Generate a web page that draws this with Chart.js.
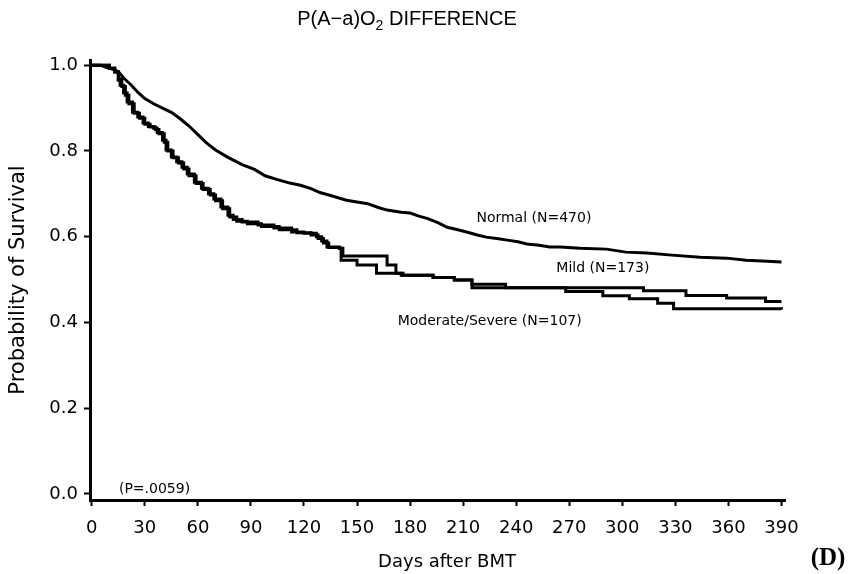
<!DOCTYPE html>
<html><head><meta charset="utf-8">
<script src="https://cdn.jsdelivr.net/npm/chart.js@4"></script>
<style>html,body{margin:0;padding:0;background:#fff}</style>
</head><body>
<canvas id="c" width="854" height="574"></canvas>
<script>
// ---- data ----
const xTicks = [0,30,60,90,120,150,180,210,240,270,300,330,360,390];
const yTicks = [0,0.2,0.4,0.6,0.8,1.0];

const normalDays = [0,5,8,12,15,18,22,26,30,35,40,45,50,55,60,65,70,77,85,92,98,105,112,118,124,129,136,144,150,156,162,167,175,180,185,190,196,201,207,212,218,223,230,235,241,246,253,259,265,276,291,302,314,328,344,359,370,382,390];
const normalSurv = [1.0,1.0,0.995,0.99,0.985,0.97,0.955,0.937,0.922,0.91,0.900,0.890,0.875,0.858,0.838,0.818,0.802,0.785,0.768,0.757,0.742,0.733,0.725,0.72,0.712,0.703,0.695,0.685,0.681,0.677,0.668,0.662,0.657,0.655,0.648,0.642,0.632,0.622,0.616,0.611,0.604,0.599,0.595,0.592,0.588,0.583,0.58,0.576,0.576,0.573,0.571,0.564,0.562,0.557,0.552,0.55,0.545,0.543,0.541];

const mildDays = [0,6,10,13,15,16,18,20,23,26,29,32,35,37,40,42,45,48,51,54,58,62,66,69,73,77,80,85,94,103,113,120,127,130,133,140,141,150,161,175,193,205,215,312,336,359,381,390];
const mildSurv = [1.0,1.0,0.993,0.984,0.965,0.953,0.935,0.914,0.89,0.879,0.865,0.857,0.853,0.843,0.825,0.802,0.786,0.775,0.762,0.746,0.727,0.713,0.7,0.688,0.669,0.65,0.64,0.634,0.627,0.62,0.611,0.608,0.6,0.59,0.576,0.573,0.545,0.534,0.515,0.51,0.505,0.499,0.481,0.474,0.463,0.457,0.449,0.449];

const modDays = [0,6,10,13,15,17,19,21,24,27,30,33,36,38,41,43,46,49,52,55,59,63,67,70,74,78,82,88,96,106,116,124,128,131,134,140,142,167,172,176,193,205,215,234,268,289,304,320,329,390];
const modSurv = [1.0,1.0,0.993,0.984,0.968,0.95,0.93,0.91,0.888,0.876,0.862,0.856,0.85,0.84,0.82,0.8,0.784,0.772,0.758,0.742,0.724,0.71,0.697,0.684,0.665,0.646,0.636,0.63,0.624,0.616,0.609,0.604,0.596,0.585,0.575,0.573,0.555,0.534,0.515,0.51,0.505,0.499,0.489,0.481,0.472,0.462,0.455,0.445,0.432,0.43];

const seriesLabels = [
  {text:'Normal (N=470)', day:250, surv:0.643},
  {text:'Mild (N=173)', day:289, surv:0.527},
  {text:'Moderate/Severe (N=107)', day:225, surv:0.403},
  {text:'(P=.0059)', day:35.5, surv:0.01}
];
const xTitle = 'Days after BMT';
const yTitle = 'Probability of Survival';

const toPts = (d,s)=>d.map((x,i)=>({x:x,y:s[i]}));

const annot = {
  id:'annot',
  afterDraw(chart){
    const ctx = chart.ctx, xs = chart.scales.x, ys = chart.scales.y;
    ctx.save();
    ctx.fillStyle = '#000';
    ctx.textAlign = 'center';
    ctx.textBaseline = 'middle';
    ctx.font = '14px "DejaVu Sans"';
    seriesLabels.forEach(l=>{
      ctx.fillText(l.text, xs.getPixelForValue(l.day), ys.getPixelForValue(l.surv));
    });
    // x axis title
    ctx.font = '18px "DejaVu Sans"';
    ctx.fillText(xTitle, 447, 562);
    // title with subscript
    const big = '20px "Liberation Sans"', small = '14px "Liberation Sans"';
    const p1 = 'P(A\u2212a)O', p2 = '2', p3 = ' DIFFERENCE';
    ctx.font = big; const w1 = ctx.measureText(p1).width, w3 = ctx.measureText(p3).width;
    ctx.font = small; const w2 = ctx.measureText(p2).width;
    let x0 = 407 - (w1+w2+w3)/2;
    ctx.textAlign = 'left'; ctx.textBaseline = 'alphabetic';
    ctx.font = big; ctx.fillText(p1, x0, 25);
    ctx.font = small; ctx.fillText(p2, x0+w1, 30);
    ctx.font = big; ctx.fillText(p3, x0+w1+w2, 25);
    // panel letter
    ctx.textAlign = 'center';
    ctx.font = 'bold 25px "Liberation Serif"';
    ctx.fillText('(D)', 828, 565);
    ctx.restore();
  }
};

const lineDs = (label, d, s, stepped)=>({
  label, data: toPts(d,s), borderColor:'#000', borderWidth:3, pointRadius:0,
  fill:false, tension:0, stepped: stepped
});

new Chart(document.getElementById('c'), {
  type:'line',
  data:{datasets:[
    lineDs('Normal (N=470)', normalDays, normalSurv, false),
    lineDs('Mild (N=173)', mildDays, mildSurv, 'before'),
    lineDs('Moderate/Severe (N=107)', modDays, modSurv, 'before')
  ]},
  options:{
    responsive:false, animation:false,
    layout:{padding:{top:60,right:69,left:0,bottom:0}},
    plugins:{legend:{display:false}, tooltip:{enabled:false}, title:{display:false}},
    scales:{
      x:{
        type:'linear', min:-1, max:392,
        afterBuildTicks:s=>{s.ticks = xTicks.map(v=>({value:v}));},
        afterFit:s=>{s.height = 74;},
        grid:{display:true, drawOnChartArea:false, drawTicks:true, tickLength:6, tickWidth:2, color:'#000'},
        border:{display:true, width:3, color:'#000'},
        ticks:{color:'#000', font:{family:'DejaVu Sans', size:18}, padding:12, maxRotation:0, autoSkip:false,
               callback:v=>String(v)},
        title:{display:false}
      },
      y:{
        type:'linear', min:-0.014, max:1.012,
        afterBuildTicks:s=>{s.ticks = yTicks.map(v=>({value:v}));},
        afterFit:s=>{s.width = 90;},
        grid:{display:true, drawOnChartArea:false, drawTicks:true, tickLength:6, tickWidth:2, color:'#000'},
        border:{display:true, width:3, color:'#000'},
        ticks:{color:'#000', font:{family:'DejaVu Sans', size:18}, padding:6, callback:v=>Number(v).toFixed(1)},
        title:{display:true, text:yTitle, color:'#000', font:{family:'DejaVu Sans', size:21}, padding:{top:6,bottom:0}}
      }
    }
  },
  plugins:[annot]
});
</script>
</body></html>
